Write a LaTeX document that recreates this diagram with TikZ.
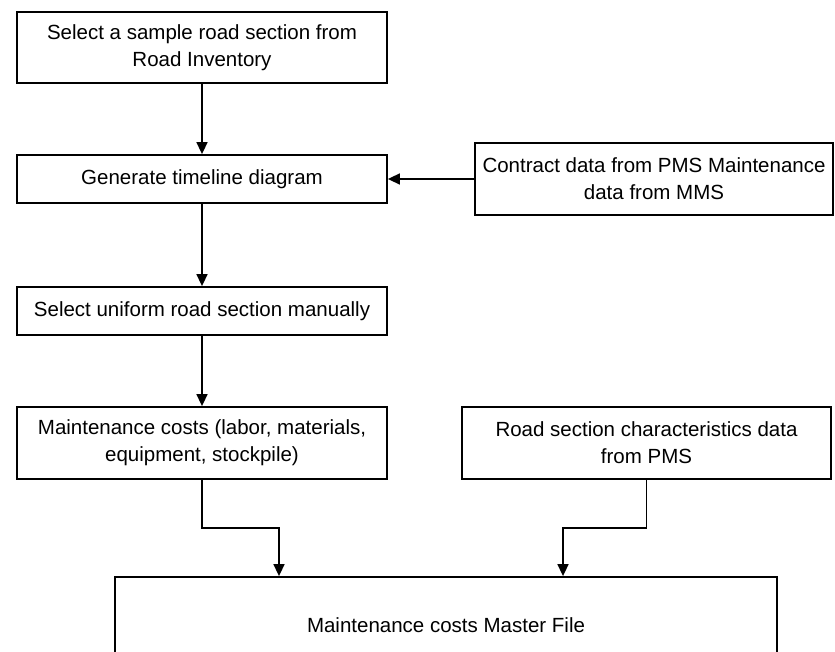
\documentclass[tikz,border=0pt]{standalone}
\usepackage{fontspec}
\setmainfont{Liberation Sans}
\usetikzlibrary{arrows.meta}

\tikzset{
    box/.style={draw, line width=1.8pt, align=center, inner sep=0pt,
        font=\fontsize{20.5}{27}\selectfont},
    arr/.style={-{Triangle[length=12pt, width=11pt]}, line width=1.6pt}
}

\begin{document}
\begin{tikzpicture}[x=1pt, y=-1pt]
        \clip (0, 0) rectangle (835, 652);
        \fill[white] (0, 0) rectangle (835, 652);
        \node[box, minimum width=370, minimum height=71] (sample) at (202, 47.5) {Select a sample road section from\\Road Inventory};
        \node[box, minimum width=370, minimum height=48] (timeline) at (202, 179) {Generate timeline diagram};
        \node[box, minimum width=358, minimum height=72] (contract) at (654, 179) {Contract data from PMS Maintenance\\data from MMS};
        \node[box, minimum width=370, minimum height=48] (uniform) at (202, 311) {Select uniform road section manually};
        \node[box, minimum width=370, minimum height=72] (costs) at (202, 443) {Maintenance costs (labor, materials,\\equipment, stockpile)};
        \node[box, minimum width=369, minimum height=72] (roadchar) at (646.5, 443) {Road section characteristics data\\from PMS};
        \node[box, minimum width=662, minimum height=96] (master) at (446, 625) {Maintenance costs Master File};
        \draw[arr] (sample) -- (timeline);
        \draw[arr] (contract) -- (timeline);
        \draw[arr] (timeline) -- (uniform);
        \draw[arr] (uniform) -- (costs);
        \draw[arr] (costs.south) -- ++(0, 48) -| ([xshift=-167pt]master.north);
        \draw[arr] (roadchar.south) -- ++(0, 48) -| ([xshift=117pt]master.north);
    \end{tikzpicture}
\end{document}
